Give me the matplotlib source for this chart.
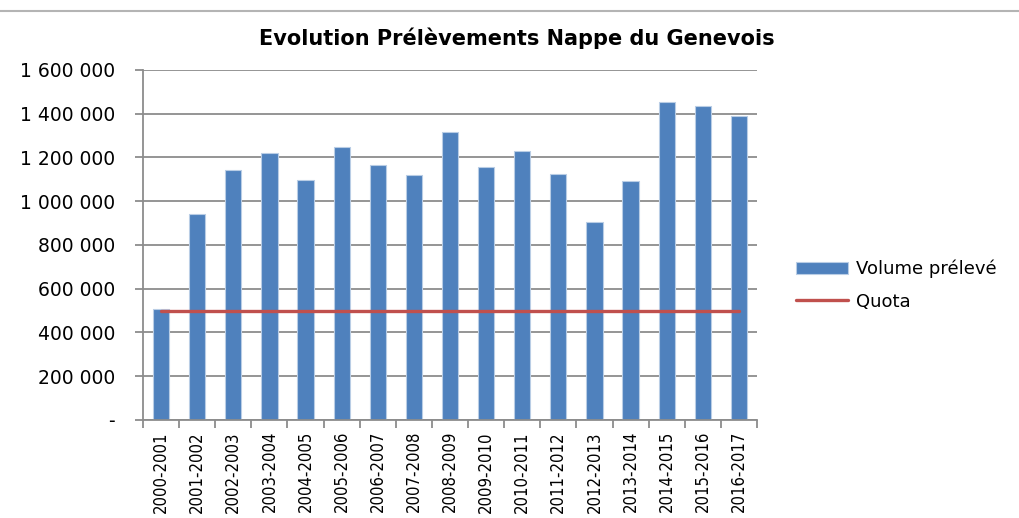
import matplotlib.pyplot as plt
from matplotlib.ticker import FuncFormatter, FixedLocator
from matplotlib.lines import Line2D

# Data
campagnes = ['2000-2001', '2001-2002', '2002-2003', '2003-2004', '2004-2005',
             '2005-2006', '2006-2007', '2007-2008', '2008-2009', '2009-2010',
             '2010-2011', '2011-2012', '2012-2013', '2013-2014', '2014-2015',
             '2015-2016', '2016-2017']
volume_preleve = [506000, 940000, 1143000, 1222000, 1099000, 1248000, 1167000,
                  1118000, 1315000, 1155000, 1228000, 1125000, 907000, 1093000,
                  1455000, 1437000, 1388000]
quota = [500000] * len(campagnes)

blue = '#4F81BD'
red = '#C0504D'
grid_col = '#8C8C8C'

fig = plt.figure(figsize=(10.19, 5.18), dpi=100)
ax = fig.add_axes([0.1403, 0.1892, 0.6026, 0.6757])

x = list(range(len(campagnes)))
bars = ax.bar(x, volume_preleve, width=0.45, color=blue, edgecolor='#B9CDE5',
              linewidth=0.8, zorder=2, label='Volume prélevé')
line, = ax.plot(x, quota, color=red, linewidth=2.4, zorder=3, label='Quota',
                solid_capstyle='round')

ax.set_xlim(-0.5, len(campagnes) - 0.5)
ax.set_ylim(0, 1600000)
ax.set_yticks(range(0, 1600001, 200000))

def fmt(v, pos):
    if v == 0:
        return '-'
    return '{:,}'.format(int(v)).replace(',', ' ')

ax.yaxis.set_major_formatter(FuncFormatter(fmt))
ax.grid(axis='y', color=grid_col, linewidth=1.3, zorder=0)
ax.set_axisbelow(True)

for s in ['top', 'right']:
    ax.spines[s].set_visible(False)
for s in ['left', 'bottom']:
    ax.spines[s].set_color(grid_col)
    ax.spines[s].set_linewidth(1.3)

ax.tick_params(axis='y', length=6, width=1.3, color=grid_col, pad=14,
               labelsize=13.5)

# category labels at centers, tick marks at boundaries
ax.set_xticks(x)
ax.set_xticklabels(campagnes, rotation=90, fontsize=12,
                   fontstretch='condensed')
ax.tick_params(axis='x', which='major', length=0, pad=8)
ax.xaxis.set_minor_locator(FixedLocator([i - 0.5 for i in range(len(campagnes) + 1)]))
ax.tick_params(axis='x', which='minor', length=6, width=1.3, color=grid_col)

fig.text(0.507, 0.927, 'Evolution Prélèvements Nappe du Genevois',
         ha='center', va='center', fontsize=15, fontweight='bold')

# thin line across the top of the picture
fig.add_artist(Line2D([0, 1], [0.979, 0.979], transform=fig.transFigure,
                      color='#B4B4B4', linewidth=1.5))

leg = fig.legend([bars, line], ['Volume prélevé', 'Quota'], loc='upper left',
                 bbox_to_anchor=(0.765, 0.53), frameon=False,
                 fontsize=13, handlelength=2.9, handletextpad=0.45,
                 labelspacing=0.8)

fig.savefig('out.png', dpi=100)
